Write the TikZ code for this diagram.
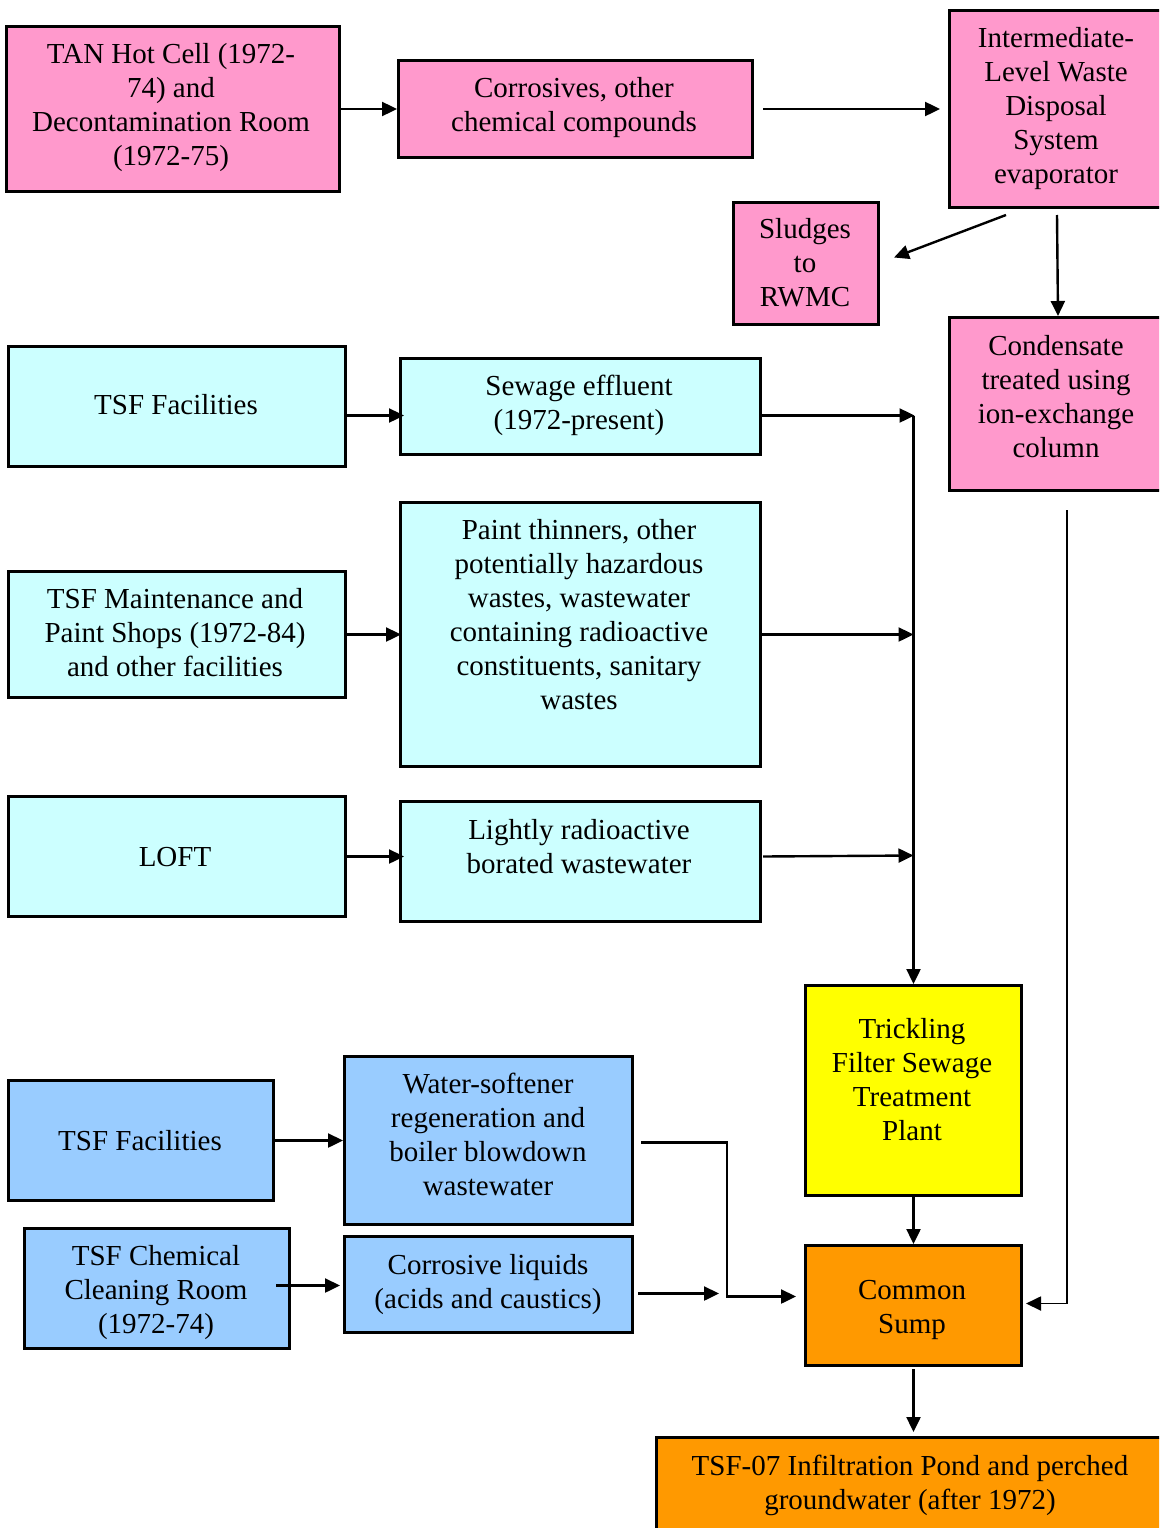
\documentclass[tikz,border=0pt]{standalone}
\usepackage{fontspec}
\setmainfont{Liberation Serif}
\usetikzlibrary{arrows.meta,calc}
\definecolor{pinkbox}{HTML}{FF99CC}
\definecolor{cyanbox}{HTML}{CCFFFF}
\definecolor{bluebox}{HTML}{99CCFF}
\definecolor{yellowbox}{HTML}{FFFF00}
\definecolor{orangebox}{HTML}{FF9900}
\begin{document}
\begin{tikzpicture}[x=1pt,y=-1pt,
  box/.style={draw=black, line width=3pt, inner sep=0pt, anchor=north west},
  txt/.style={align=center, inner sep=0pt, font=\fontsize{29}{34}\selectfont},
  flow/.style={line width=2.4pt, -{Triangle[length=15pt,width=14pt]}},
]
\useasboundingbox (0,0) rectangle (1159,1528);
\clip (0,0) rectangle (1159,1528);

% --- boxes ---
\node[box, fill=pinkbox, minimum width=333pt, minimum height=165pt] (tan) at (5,25) {};
\node[box, fill=pinkbox, minimum width=354pt, minimum height=97pt] (corr) at (397,59) {};
\node[box, fill=pinkbox, minimum width=217pt, minimum height=197pt] (ilw) at (948,9) {};
\node[box, fill=pinkbox, minimum width=145pt, minimum height=122pt] (sl) at (732,201) {};
\node[box, fill=pinkbox, minimum width=217pt, minimum height=173pt] (cond) at (948,316) {};
\node[box, fill=cyanbox, minimum width=337pt, minimum height=120pt] (tsfa) at (7,345) {};
\node[box, fill=cyanbox, minimum width=360pt, minimum height=96pt] (sew) at (399,357) {};
\node[box, fill=cyanbox, minimum width=337pt, minimum height=126pt] (maint) at (7,570) {};
\node[box, fill=cyanbox, minimum width=360pt, minimum height=264pt] (paint) at (399,501) {};
\node[box, fill=cyanbox, minimum width=337pt, minimum height=120pt] (loft) at (7,795) {};
\node[box, fill=cyanbox, minimum width=360pt, minimum height=120pt] (lr) at (399,800) {};
\node[box, fill=yellowbox, minimum width=216pt, minimum height=210pt] (trk) at (804,984) {};
\node[box, fill=bluebox, minimum width=265pt, minimum height=120pt] (tsfb) at (7,1079) {};
\node[box, fill=bluebox, minimum width=288pt, minimum height=168pt] (ws) at (343,1055) {};
\node[box, fill=bluebox, minimum width=265pt, minimum height=120pt] (chem) at (23,1227) {};
\node[box, fill=bluebox, minimum width=288pt, minimum height=96pt] (cl) at (343,1235) {};
\node[box, fill=orangebox, minimum width=216pt, minimum height=120pt] (sump) at (804,1244) {};
\node[box, fill=orangebox, minimum width=510pt, minimum height=100pt] (pond) at (655,1436) {};

% --- labels ---
\node[txt] (tan-t) at (171,108) {\strut TAN Hot Cell (1972-\\74) and\\Decontamination Room\\(1972-75)\strut};
\node[txt] (corr-t) at (574,108) {\strut Corrosives, other\\chemical compounds\strut};
\node[txt] (ilw-t) at (1056,109) {\strut Intermediate-\\Level Waste\\Disposal\\System\\evaporator\strut};
\node[txt] (sl-t) at (805,266) {\strut Sludges\\to\\RWMC\strut};
\node[txt] (cond-t) at (1056,400) {\strut Condensate\\treated using\\ion-exchange\\column\strut};
\node[txt] (tsfa-t) at (176,408) {\strut TSF Facilities\strut};
\node[txt] (sew-t) at (579,406) {\strut Sewage effluent\\(1972-present)\strut};
\node[txt] (maint-t) at (175,636) {\strut TSF Maintenance and\\Paint Shops (1972-84)\\and other facilities\strut};
\node[txt] (paint-t) at (579,618) {\strut Paint thinners, other\\potentially hazardous\\wastes, wastewater\\containing radioactive\\constituents, sanitary\\wastes\strut};
\node[txt] (loft-t) at (175,860) {\strut LOFT\strut};
\node[txt] (lr-t) at (579,850) {\strut Lightly radioactive\\borated wastewater\strut};
\node[txt] (trk-t) at (912,1083) {\strut Trickling\\Filter Sewage\\Treatment\\Plant\strut};
\node[txt] (tsfb-t) at (140,1144) {\strut TSF Facilities\strut};
\node[txt] (ws-t) at (488,1138) {\strut Water-softener\\regeneration and\\boiler blowdown\\wastewater\strut};
\node[txt] (chem-t) at (156,1293) {\strut TSF Chemical\\Cleaning Room\\(1972-74)\strut};
\node[txt] (cl-t) at (488,1285) {\strut Corrosive liquids\\(acids and caustics)\strut};
\node[txt] (sump-t) at (912,1310) {\strut Common\\Sump\strut};
\node[txt] (pond-t) at (910,1486) {\strut TSF-07 Infiltration Pond and perched\\groundwater (after 1972)\strut};

% --- connectors ---
\draw[flow] (tan.east) -- (corr.west);
\draw[flow] ($(corr.east)+(9,0)$) -- ($(ilw.west |- corr.east)+(-8,0)$);
\draw[flow] ($(ilw.south)+(-52,6)$) -- ($(sl.east)+(14,-6)$);
\draw[flow] ($(ilw.south)+(-1,6)$) -- (cond.north);

\draw[flow] ($(tsfa.east)+(0,9)$) -- ($(sew.west)+(5,9)$);
\coordinate (s1) at ($(sew.east)+(0,9)$);
\coordinate (j1) at (s1 -| trk.north);
\draw[flow] (s1) -- ($(j1)+(1,0)$);
\draw[flow] (j1) -- (trk.north);

\draw[flow] (maint.east) -- ($(paint.west)+(2,0)$);
\draw[flow] (paint.east) -- (paint.east -| trk.north);

\draw[flow] (loft.east) -- ($(loft.east -| lr.west)+(5,0)$);
\draw[flow] ($(lr.east)+(1,-5)$) -- ($(lr.east -| trk.north)+(0,-6)$);

\draw[flow, line width=1.8pt] ($(cond.south)+(9,18)$) |- ($(sump.east)+(3,-2)$);

\draw[flow] (tsfb.east) -- (ws.west);
\coordinate (w1) at ($(ws.east)+(7,2)$);
\coordinate (s2) at ($(sump.west)+(-8,-9)$);
\draw[flow] (w1) -- ++(86,0) |- (s2);

\draw[flow] ($(chem.east)+(-15,-3)$) -- ($(chem.east -| cl.west)+(-3,-3)$);
\coordinate (c1) at ($(cl.east)+(4,9)$);
\coordinate (c2) at ($(c1)+(81,0)$);
\draw[flow] (c1) -- (c2);

\draw[flow] (trk.south) -- (sump.north);
\draw[flow] ($(sump.south)+(0,2)$) -- ($(sump.south |- pond.north)+(0,-4)$);
\end{tikzpicture}
\end{document}
